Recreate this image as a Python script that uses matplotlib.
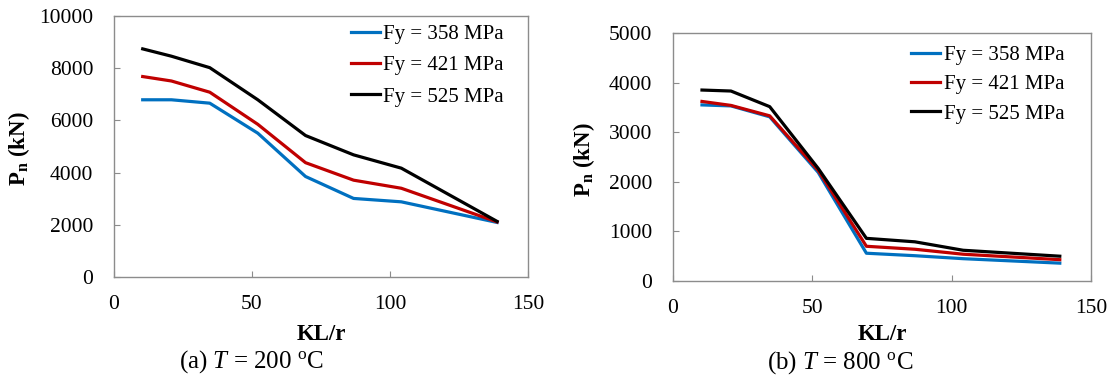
import matplotlib
matplotlib.use("Agg")
import matplotlib.pyplot as plt

plt.rcParams['font.family'] = ['Liberation Serif', 'DejaVu Serif']
plt.rcParams['mathtext.fontset'] = 'custom'
plt.rcParams['mathtext.rm'] = 'Liberation Serif'
plt.rcParams['mathtext.it'] = 'Liberation Serif:italic'
plt.rcParams['mathtext.bf'] = 'Liberation Serif:bold'

kl_r = [10.4, 20.8, 34.7, 52.1, 69.4, 86.8, 104.1, 138.8]
etiquetas = ["Fy = 358 MPa", "Fy = 421 MPa", "Fy = 525 MPa"]
colores = ['#0070C0', '#C00000', '#000000']

# T = 200 C
pn_200_358 = [6790, 6790, 6660, 5510, 3850, 3010, 2880, 2090]
pn_200_421 = [7680, 7510, 7080, 5850, 4380, 3710, 3400, 2110]
pn_200_525 = [8740, 8460, 8020, 6790, 5420, 4680, 4170, 2130]

# T = 800 C
pn_800_358 = [3550, 3530, 3310, 2190, 560, 510, 450, 360]
pn_800_421 = [3620, 3540, 3330, 2230, 700, 640, 540, 430]
pn_800_525 = [3850, 3830, 3515, 2270, 860, 790, 620, 500]

GRIS = '#8c8c8c'


def graficar(ax, series, ymax, ypaso, ylabel_x, xlabel_y, leg_pos, espacio):
    for valores, color, etiqueta in zip(series, colores, etiquetas):
        ax.plot(kl_r, valores, color=color, linewidth=2.3, label=etiqueta)
    ax.set_xlim(0, 150)
    ax.set_ylim(0, ymax)
    ax.set_xticks([0, 50, 100, 150])
    ax.set_yticks(range(0, ymax + 1, ypaso))
    for s in ax.spines.values():
        s.set_color(GRIS)
        s.set_linewidth(1.0)
    ax.tick_params(axis='both', direction='in', length=4, color=GRIS, labelsize=15.5)
    ax.tick_params(axis='x', pad=13, top=False)
    ax.tick_params(axis='y', pad=15, right=False)
    ax.set_xlabel("KL/r", fontsize=16.5, fontweight='bold')
    ax.set_ylabel(r"$\mathbf{P}_{\mathbf{n}}$ (kN)", fontsize=16.5, fontweight='bold')
    ax.xaxis.set_label_coords(0.5, xlabel_y)
    ax.yaxis.set_label_coords(ylabel_x, 0.49)
    ax.legend(loc='upper left', bbox_to_anchor=leg_pos, frameon=False, fontsize=15,
              handlelength=1.4, handletextpad=0.15, labelspacing=espacio,
              borderpad=0, borderaxespad=0)


def main():
    fig = plt.figure(figsize=(11.12, 3.75), dpi=100)
    ax1 = fig.add_axes([114 / 1112, 98 / 375, 414 / 1112, 261 / 375])
    ax2 = fig.add_axes([673 / 1112, 94 / 375, 418 / 1112, 248 / 375])

    graficar(ax1, [pn_200_358, pn_200_421, pn_200_525], 10000, 2000,
             -0.198, -0.179, (0.572, 0.967), 0.56)
    graficar(ax2, [pn_800_358, pn_800_421, pn_800_525], 5000, 1000,
             -0.181, -0.175, (0.570, 0.950), 0.47)

    fig.text(252 / 1112, 1 - 368 / 375, r"(a) $T$ = 200 $^{\mathrm{o}}$C", fontsize=18,
             ha='center', va='baseline')
    fig.text(840 / 1112, 1 - 369 / 375, r"(b) $T$ = 800 $^{\mathrm{o}}$C", fontsize=18,
             ha='center', va='baseline')

    fig.savefig("out.png", dpi=100)


if __name__ == "__main__":
    main()
